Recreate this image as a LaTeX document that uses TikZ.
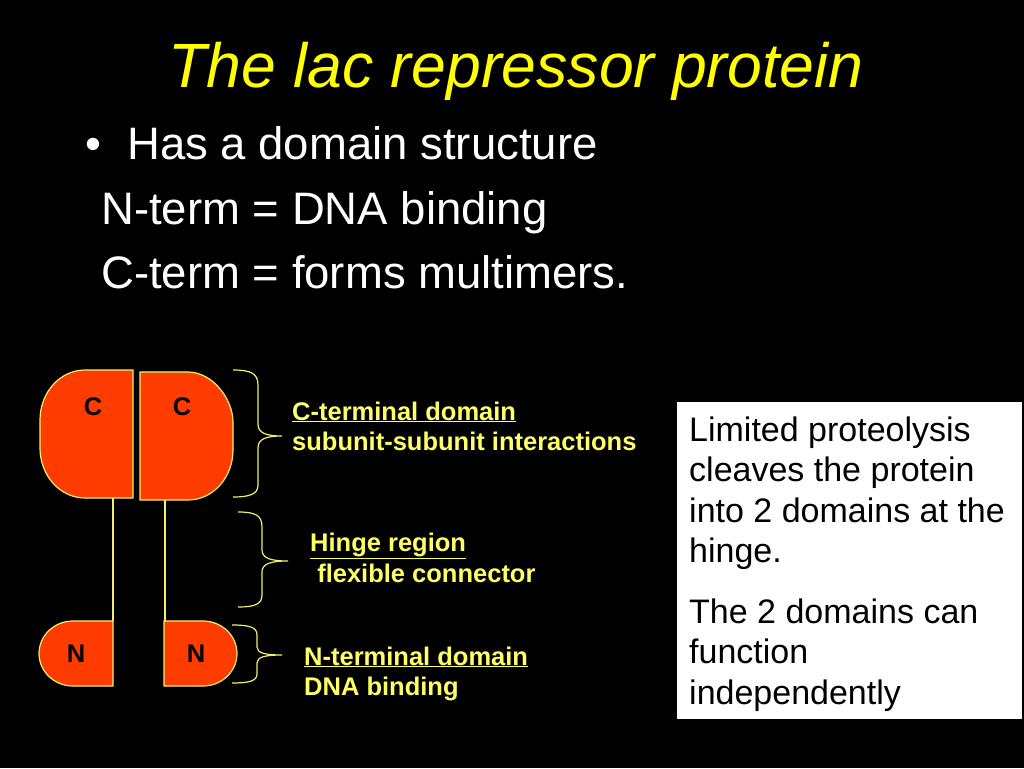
\documentclass[tikz,border=0pt]{standalone}
\usepackage{fontspec}
\setmainfont{Liberation Sans}
\definecolor{domred}{HTML}{FF3C00}
\definecolor{lineyellow}{HTML}{F2F06A}
\definecolor{lblyellow}{HTML}{FFFF66}
\definecolor{titleyellow}{HTML}{FFFF00}
\begin{document}
\begin{tikzpicture}[x=1pt,y=-1pt,
  dom/.style={draw=lineyellow, line width=1.2pt, fill=domred},
  link/.style={draw=lineyellow, line width=1.2pt},
  brc/.style={draw=lineyellow, line width=1.2pt},
  lbl/.style={anchor=base west, inner sep=0pt, text=lblyellow, font=\bfseries\fontsize{25.5}{30}\selectfont},
  body/.style={anchor=base west, inner sep=0pt, text=white, font=\fontsize{45.5}{54}\selectfont},
  boxline/.style={anchor=base west, inner sep=0pt, text=black, font=\fontsize{34}{40}\selectfont},
  letter/.style={text=black, font=\bfseries\fontsize{25.5}{30}\selectfont, inner sep=0pt}]
\fill[black] (0,0) rectangle (1024,768);
\useasboundingbox (0,0) rectangle (1024,768);

% title
\node[anchor=base, inner sep=0pt, text=titleyellow, font=\itshape\fontsize{62.5}{70}\selectfont] (title) at (516,87) {The lac repressor protein};

% bullet text
\node[body] (bul) at (85,159) {•};
\node[body] (l1) at (127,159) {Has a domain structure};
\node[body] (l2) at (101,224) {N-term = DNA binding};
\node[body] (l3) at (101,288) {C-term = forms multimers.};

% domains
\path[dom] (133,370) -- (85,370) .. controls (60.1,370) and (40,392.4) .. (40,420) -- (40,448)
  .. controls (40,475.6) and (60.1,498) .. (85,498) -- (133,498) -- cycle;
\path[dom] (140,372) -- (188,372) .. controls (212.9,372) and (233,399.6) .. (233,422) -- (233,450)
  .. controls (233,477.6) and (212.9,500) .. (188,500) -- (140,500) -- cycle;
\path[dom] (113,621) -- (73,621) .. controls (54.2,621) and (39,635.6) .. (39,653.5)
  .. controls (39,671.4) and (54.2,686) .. (73,686) -- (113,686) -- cycle;
\path[dom] (164,621) -- (203,621) .. controls (221.8,621) and (237,635.6) .. (237,653.5)
  .. controls (237,671.4) and (221.8,686) .. (203,686) -- (164,686) -- cycle;

\node[letter] (c1) at (93,407) {C};
\node[letter] (c2) at (182,407) {C};
\node[letter] (n1) at (76,654) {N};
\node[letter] (n2) at (196,654) {N};

% hinge links
\coordinate (h1top) at (113,498);
\coordinate (h1bot) at (113,621);
\coordinate (h2top) at (165,500);
\coordinate (h2bot) at (165,621);
\draw[link] (h1top) -- (h1bot);
\draw[link] (h2top) -- (h2bot);

% braces
\draw[brc] (233,370) .. controls (250,370) and (258,373) .. (258,385) -- (258,424)
  .. controls (258,433) and (266,436) .. (282,436)
  .. controls (266,436) and (258,439) .. (258,448) -- (258,485)
  .. controls (258,494) and (250,497) .. (233,497);
\draw[brc] (238,512) .. controls (255,512) and (262,515) .. (262,527) -- (262,550)
  .. controls (262,558) and (270,561) .. (288,561)
  .. controls (270,561) and (262,564) .. (262,572) -- (262,595)
  .. controls (262,604) and (255,607) .. (238,607);
\draw[brc] (232,625) .. controls (249,625) and (257,627) .. (257,635) -- (257,647)
  .. controls (257,653) and (265,655) .. (282,655)
  .. controls (265,655) and (257,657) .. (257,663) -- (257,674)
  .. controls (257,681) and (249,683) .. (232,683);

% labels
\node[lbl] (ct1) at (292,420) {\underline{C-terminal domain}};
\node[lbl] (ct2) at (292,450) {subunit-subunit interactions};
\node[lbl] (hg1) at (310,551) {\underline{Hinge region}};
\node[lbl] (hg2) at (310,582) {\ flexible connector};
\node[lbl] (nt1) at (304,665) {\underline{N-terminal domain}};
\node[lbl] (nt2) at (304,695) {DNA binding};

% box
\fill[white] (677,402) rectangle (1022,719);
\node[boxline] (b1) at (689,441) {Limited proteolysis};
\node[boxline] (b2) at (689,481.5) {cleaves the protein};
\node[boxline] (b3) at (689,522) {into 2 domains at the};
\node[boxline] (b4) at (689,562.5) {hinge.};
\node[boxline] (b5) at (689,623) {The 2 domains can};
\node[boxline] (b6) at (689,663.5) {function};
\node[boxline] (b7) at (689,704) {independently};
\end{tikzpicture}
\end{document}
